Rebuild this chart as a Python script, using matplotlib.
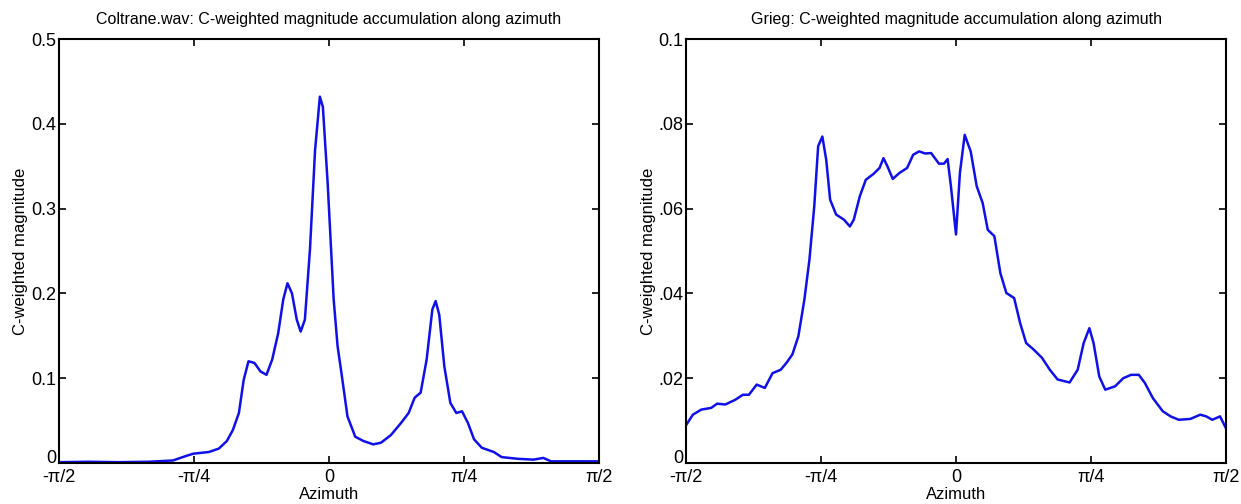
import numpy as np
import matplotlib
matplotlib.use("Agg")
import matplotlib.pyplot as plt

plt.rcParams["font.family"] = ["Liberation Sans", "DejaVu Sans"]

# Coltrane.wav: azimuth in degrees, C-weighted magnitude
coltrane_deg = [-90, -80, -70, -60, -52, -47.9, -45.2, -40, -36.7, -34, -32, -30, -28.4, -26.8,
                -24.8, -22.8, -20.8, -18.9, -16.9, -15.2, -13.8, -12.3, -10.7, -9.4, -8.0,
                -6.3, -4.6, -3.0, -2.0, -0.4, 1.6, 2.9, 4.2, 6.2, 8.8, 11.5, 14.8, 17.4,
                20.7, 24, 26.6, 28.6, 30.6, 32.6, 34.5, 35.6, 36.8, 38.5, 40.5, 42.5, 44.4,
                46.4, 48.4, 51, 55, 57.6, 62.9, 68.2, 71.5, 74.1, 81.4, 90]
coltrane_mag = [0.001, 0.0015, 0.001, 0.0015, 0.003, 0.008, 0.011, 0.013, 0.017, 0.026, 0.039,
                0.059, 0.098, 0.12, 0.118, 0.108, 0.104, 0.122, 0.153, 0.193, 0.212, 0.2,
                0.169, 0.155, 0.169, 0.252, 0.369, 0.432, 0.42, 0.33, 0.193, 0.138, 0.106,
                0.055, 0.031, 0.026, 0.022, 0.024, 0.033, 0.047, 0.059, 0.077, 0.083, 0.122,
                0.181, 0.191, 0.175, 0.114, 0.071, 0.059, 0.061, 0.047, 0.028, 0.018, 0.013,
                0.007, 0.005, 0.004, 0.006, 0.002, 0.002, 0.002]

# Grieg: azimuth in degrees, C-weighted magnitude
grieg_deg = [-90, -87.8, -85, -81.7, -79.7, -77, -73.7, -71.1, -69.1, -66.5, -63.8, -61.2,
             -58.5, -56.6, -54.6, -52.6, -50.6, -48.9, -47.3, -46, -44.6, -43.3, -42, -40,
             -37.4, -35.4, -34.1, -32.1, -30.1, -27.5, -25.5, -24.2, -22.9, -21.1, -18.9,
             -16.3, -14.3, -12.3, -10.3, -8.3, -5.7, -4.0, -2.8, -1.7, 0, 1.3, 2.9, 4.9,
             6.9, 8.9, 10.6, 12.8, 14.8, 16.8, 19.4, 21.4, 23.4, 26, 28.7, 31.3, 33.9,
             37.9, 40.6, 42.6, 44.5, 45.9, 47.8, 49.8, 53.1, 55.8, 58.4, 61, 63, 65.7,
             69, 71.6, 74.3, 78.2, 81.5, 83.5, 85.5, 88.1, 90]
grieg_mag = [0.009, 0.0114, 0.0126, 0.013, 0.014, 0.0138, 0.0149, 0.0161, 0.0161, 0.0185,
             0.0177, 0.0212, 0.022, 0.0236, 0.0256, 0.0299, 0.0385, 0.048, 0.0605, 0.0747,
             0.077, 0.0715, 0.0621, 0.0586, 0.0574, 0.0558, 0.0574, 0.0629, 0.0668, 0.0682,
             0.0696, 0.0719, 0.07, 0.067, 0.0684, 0.0696, 0.0727, 0.0735, 0.073, 0.0731,
             0.0706, 0.0706, 0.0717, 0.0653, 0.0539, 0.0684, 0.0774, 0.0735, 0.0653, 0.0613,
             0.055, 0.0535, 0.0448, 0.0401, 0.0389, 0.033, 0.0283, 0.0267, 0.0248, 0.022,
             0.0197, 0.019, 0.022, 0.0283, 0.0318, 0.0283, 0.0204, 0.0173, 0.0181, 0.02,
             0.0208, 0.0208, 0.0189, 0.0153, 0.0122, 0.011, 0.0102, 0.0104, 0.0114, 0.011,
             0.0102, 0.011, 0.0083]

x_ticks = [-np.pi / 2, -np.pi / 4, 0, np.pi / 4, np.pi / 2]
x_ticklabels = ["-\u03c0/2", "-\u03c0/4", "0", "\u03c0/4", "\u03c0/2"]

left_yticks = [0, 0.1, 0.2, 0.3, 0.4, 0.5]
left_yticklabels = ["0", "0.1", "0.2", "0.3", "0.4", "0.5"]
right_yticks = [0, 0.02, 0.04, 0.06, 0.08, 0.1]
right_yticklabels = ["0", ".02", ".04", ".06", ".08", "0.1"]

fig = plt.figure(figsize=(12.41, 5.04), dpi=100)
ax1 = fig.add_axes([0.0475, 0.0813, 0.435, 0.8413])
ax2 = fig.add_axes([0.553, 0.0813, 0.4347, 0.8413])

panels = [
    (ax1, coltrane_deg, coltrane_mag, 0.5, left_yticks, left_yticklabels,
     "Coltrane.wav: C-weighted magnitude accumulation along azimuth"),
    (ax2, grieg_deg, grieg_mag, 0.1, right_yticks, right_yticklabels,
     "Grieg: C-weighted magnitude accumulation along azimuth"),
]

for ax, deg, mag, ymax, yt, ytl, title in panels:
    ax.plot(np.deg2rad(deg), mag, color="#1010e8", linewidth=1.8)
    ax.set_xlim(-np.pi / 2, np.pi / 2)
    ax.set_ylim(0, ymax)
    ax.set_xticks(x_ticks)
    ax.set_xticklabels(x_ticklabels)
    ax.set_yticks(yt)
    ax.set_yticklabels(ytl)
    ax.tick_params(direction="in", top=True, right=True, length=5, width=1.2,
                   labelsize=13)
    ax.tick_params(axis="x", pad=4)
    ax.tick_params(axis="y", pad=2)
    # the bottom "0" sits on the axis line, as in the original
    ax.get_yticklabels()[0].set_verticalalignment("baseline")
    for s in ax.spines.values():
        s.set_linewidth(1.5)
    ax.set_title(title, fontsize=11.5, pad=11)
    ax.set_xlabel("Azimuth", fontsize=12, labelpad=1)
    ax.set_ylabel("C-weighted magnitude", fontsize=12, labelpad=2)

fig.savefig("out.png", dpi=100, facecolor="white")
